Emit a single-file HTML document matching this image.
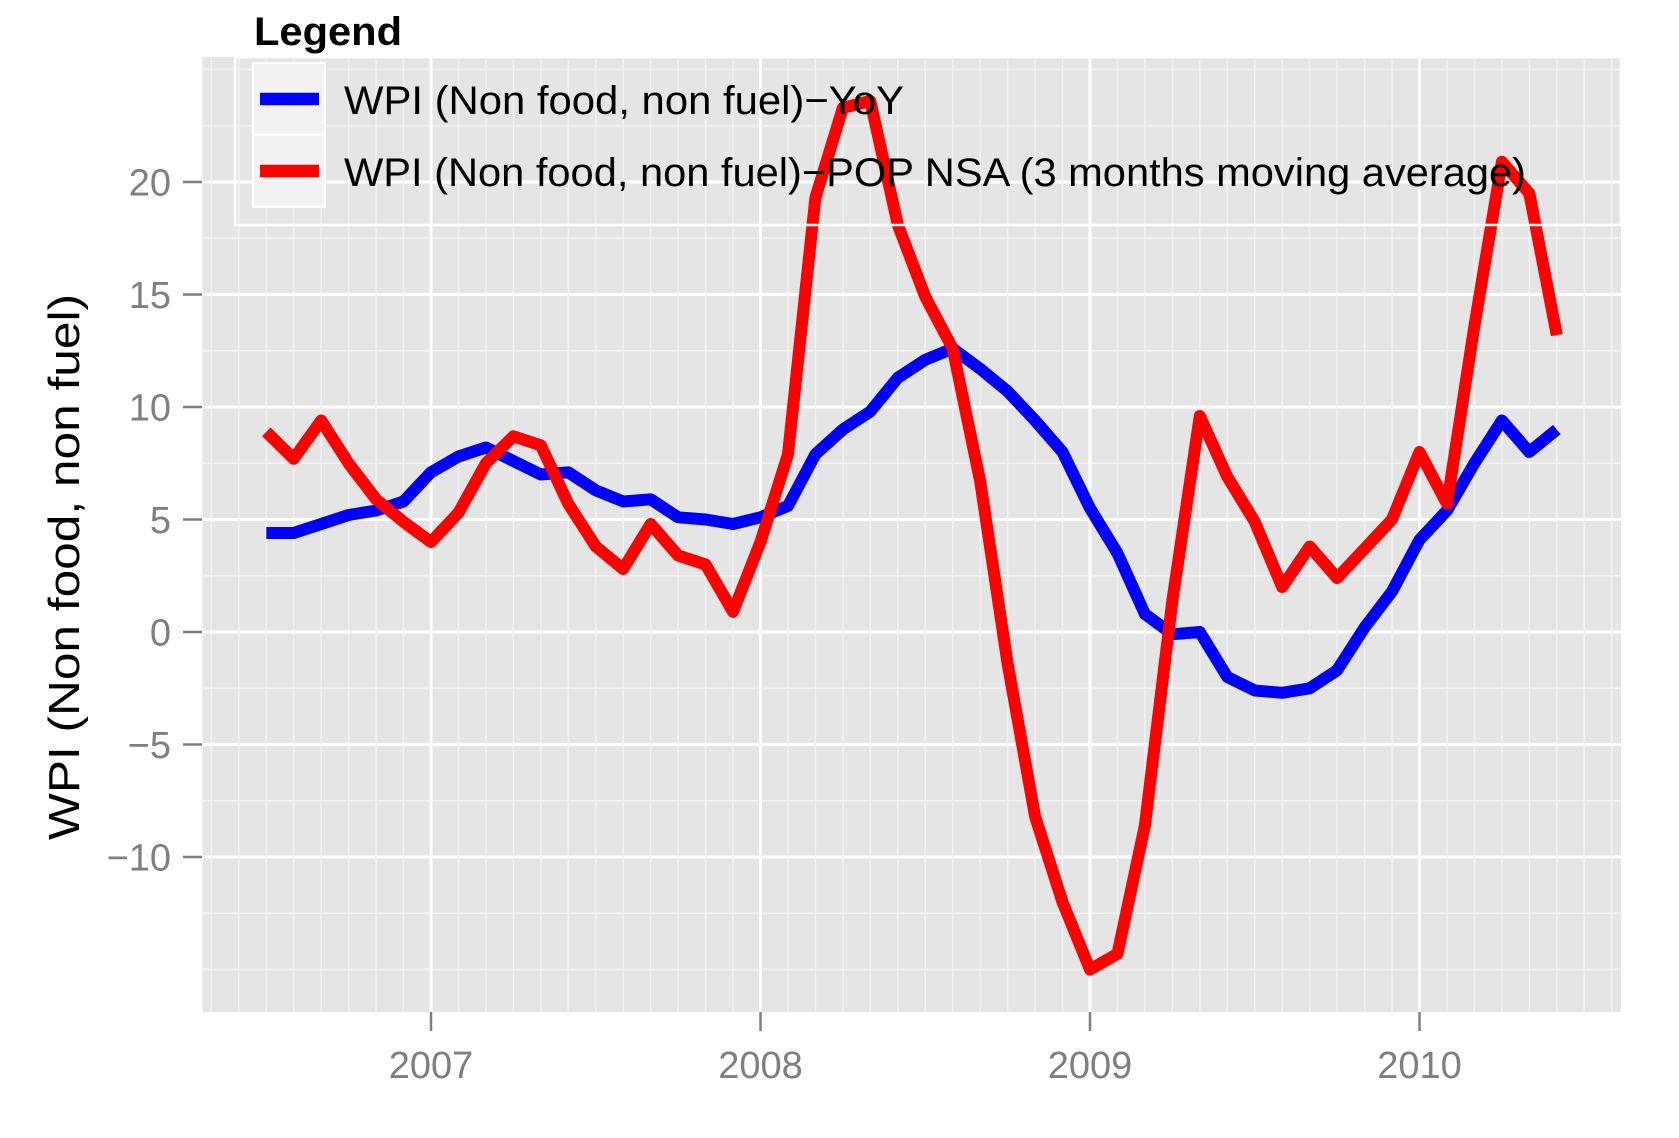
<!DOCTYPE html>
<html><head><meta charset="utf-8"><style>
html,body{margin:0;padding:0;background:#fff;}
svg{display:block;font-family:"Liberation Sans",sans-serif;}
</style></head><body>
<svg id="chart" width="1679" height="1138" viewBox="0 0 1679 1138" xmlns="http://www.w3.org/2000/svg">
<rect x="202.5" y="57" width="1418.5" height="955" fill="#e5e5e5"/>
<g id="grid"></g>
<g id="series"></g>
<g id="axes"></g>
<text transform="translate(79,567) rotate(-90)" text-anchor="middle" font-size="44" fill="#000" textLength="546" lengthAdjust="spacingAndGlyphs">WPI (Non food, non fuel)</text>
<g>
<text x="254" y="45" font-size="40" font-weight="bold" fill="#000" textLength="148" lengthAdjust="spacingAndGlyphs">Legend</text>
<rect x="235" y="57" width="1386" height="168" fill="none" stroke="#fff" stroke-width="2.5"/>
<rect x="253" y="63" width="72" height="72" fill="#f2f2f2" stroke="#fff" stroke-width="2"/>
<rect x="253" y="135" width="72" height="72" fill="#f2f2f2" stroke="#fff" stroke-width="2"/>
<line x1="260" y1="99" x2="319" y2="99" stroke="#0000ff" stroke-width="12.5"/>
<line x1="260" y1="171" x2="319" y2="171" stroke="#ff0000" stroke-width="12.5"/>
<text x="344" y="114" font-size="40" fill="#000" textLength="560" lengthAdjust="spacingAndGlyphs">WPI (Non food, non fuel)−YoY</text>
<text x="344" y="186" font-size="40" fill="#000" textLength="1182" lengthAdjust="spacingAndGlyphs">WPI (Non food, non fuel)−POP NSA (3 months moving average)</text>
</g>
</svg>
<script>
const months = ["2006-07","2006-08","2006-09","2006-10","2006-11","2006-12","2007-01","2007-02","2007-03","2007-04","2007-05","2007-06","2007-07","2007-08","2007-09","2007-10","2007-11","2007-12","2008-01","2008-02","2008-03","2008-04","2008-05","2008-06","2008-07","2008-08","2008-09","2008-10","2008-11","2008-12","2009-01","2009-02","2009-03","2009-04","2009-05","2009-06","2009-07","2009-08","2009-09","2009-10","2009-11","2009-12","2010-01","2010-02","2010-03","2010-04","2010-05","2010-06"];
const yoyValues = [4.4,4.4,4.8,5.2,5.4,5.8,7.1,7.8,8.2,7.6,7.0,7.1,6.3,5.8,5.9,5.1,5.0,4.8,5.1,5.6,7.9,9.0,9.8,11.3,12.1,12.6,11.7,10.7,9.4,8.0,5.5,3.5,0.8,-0.1,0.0,-2.0,-2.6,-2.7,-2.5,-1.7,0.2,1.8,4.1,5.4,7.5,9.4,8.0,9.0];
const popValues = [8.9,7.7,9.4,7.5,5.9,4.9,4.0,5.3,7.5,8.7,8.3,5.7,3.8,2.8,4.8,3.4,3.0,0.9,4.0,7.9,19.3,23.3,23.6,18.1,14.9,12.6,6.7,-1.4,-8.2,-12.0,-15.0,-14.3,-8.6,1.4,9.6,6.9,4.9,2.0,3.8,2.4,3.7,5.0,8.0,5.7,13.6,20.9,19.5,13.2];
const yTicks = [-10,-5,0,5,10,15,20];
const yTickLabels = ["−10","−5","0","5","10","15","20"];
const xYears = [2007,2008,2009,2010];

const NS="http://www.w3.org/2000/svg";
const PL=202.5, PR=1621, PT=57, PB=1012;
function xScale(t){ return 431 + (t-2007)*329.5; }
function yScale(v){ return 632 - v*22.5; }
function monthT(s){ const p=s.split("-"); return +p[0] + (+p[1]-1)/12; }
function mk(tag, attrs, parent){ const e=document.createElementNS(NS,tag); for(const k in attrs) e.setAttribute(k,attrs[k]); parent.appendChild(e); return e; }

const grid=document.getElementById("grid");
for(let v=-17.5; v<=25.5; v+=2.5){
  const y=yScale(v); if(y<PT||y>PB) continue;
  const major = yTicks.indexOf(v)>=0;
  const l=mk("line",{x1:PL,x2:PR,y1:y,y2:y,stroke:major?"#ffffff":"#f2f2f2","stroke-width":major?3:1.5},grid);
  
  
}
for(let m=0; m<60; m++){
  const t=2006+m/12; const x=xScale(t);
  if(x<PL||x>PR) continue;
  const major = (m%12===0);
  const l=mk("line",{x1:x,x2:x,y1:PT,y2:PB,stroke:major?"#ffffff":"#f2f2f2","stroke-width":major?3:1.5},grid);
  
  
}

const series=document.getElementById("series");
function drawLine(vals,color,name){
  const d=vals.map((v,i)=>(i?"L":"M")+xScale(monthT(months[i])).toFixed(1)+","+yScale(v).toFixed(1)).join(" ");
  const p=mk("path",{d:d,fill:"none",stroke:color,"stroke-width":12,"stroke-linejoin":"round","stroke-linecap":"butt"},series);
  
  
}
drawLine(yoyValues,"#0000ff","line-yoy");
drawLine(popValues,"#ff0000","line-pop-nsa");

const axes=document.getElementById("axes");
yTicks.forEach((v,i)=>{
  const y=yScale(v);
  const t=mk("line",{x1:183,x2:202,y1:y,y2:y,stroke:"#7f7f7f","stroke-width":2.5},axes);
  
  
  const tx=mk("text",{x:171,y:y+13.5,"text-anchor":"end","font-size":38,fill:"#7f7f7f"},axes);
  tx.textContent=yTickLabels[i];
  
  
});
xYears.forEach(yr=>{
  const x=xScale(yr);
  const t=mk("line",{x1:x,x2:x,y1:PB,y2:PB+19,stroke:"#7f7f7f","stroke-width":2.5},axes);
  
  
  const tx=mk("text",{x:x,y:1078,"text-anchor":"middle","font-size":38,fill:"#7f7f7f"},axes);
  tx.textContent=String(yr);
  
  
});
</script>
</body></html>
